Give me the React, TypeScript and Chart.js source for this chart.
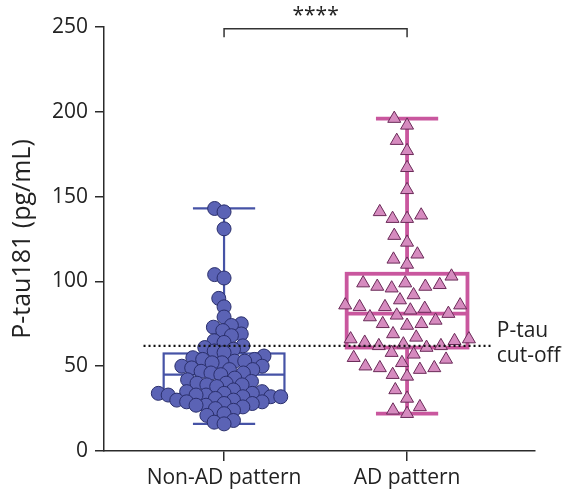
import { useEffect, useRef } from 'react';
import { Chart, registerables } from 'chart.js';

Chart.register(...registerables);

// Groups and per-subject P-tau181 values (pg/mL)
const categories = ['Non-AD pattern', 'AD pattern'];

const nonAdValues = [
  143, 141, 131, 104, 102, 90, 85,
  79, 75, 74, 73, 71, 69, 68,
  65, 64, 62, 61, 60, 59, 58,
  56, 55, 54, 54, 53, 53, 52, 52,
  50, 50, 49, 48, 48, 47, 46, 46, 45,
  43, 42, 41, 40, 40, 39, 39, 38,
  36, 35, 35, 34, 34, 34, 33, 33, 33, 32, 32, 32, 31,
  30, 30, 29, 29, 28, 28, 27, 27,
  26, 25, 24,
  22, 21,
  18, 17, 16,
];

const adValues = [
  196, 192, 183, 177, 167, 154, 141, 139, 137, 137, 127, 123, 116, 113, 110,
  103, 99, 99, 98, 97, 97, 96, 92, 89, 86, 86, 85, 85, 84, 83, 81, 80, 79, 77,
  75, 75, 74, 69, 67, 66, 66, 65, 64, 63, 62, 62, 61, 58, 57, 55, 54, 52, 50,
  49, 49, 48, 45, 44, 36, 31, 26, 24, 22,
];

// Box statistics per group (whiskers run to min / max of the values)
const boxQ1 = [33.5, 61];
const boxMedian = [45, 81];
const boxQ3 = [57.5, 104.5];

const yTicks = [0, 50, 100, 150, 200, 250];
const cutoffValue = 62;
const cutoffLabel = ['P-tau', 'cut-off'];
const significanceText = '****';

const FONT = "'Open Sans', 'DejaVu Sans', sans-serif";
const AXIS_COLOR = '#2b2b2b';
const boxColors = ['#4653a6', '#c9579e'];
const boxLineWidths = [2.2, 3.8];
const swarmSpacing = [10, 14.5];
const BOX_HALF = 0.33;
const CAP_HALF = 0.17;

// Greedy beeswarm: returns horizontal pixel offsets for each value
function swarmOffsets(values: number[], yPx: (v: number) => number, minDist: number): number[] {
  const order = values.map((_, i) => i).sort((a, b) => values[a] - values[b]);
  const placed: { x: number; y: number }[] = [];
  const offs = new Array(values.length).fill(0);
  const d2 = minDist * minDist;
  for (const i of order) {
    const y = yPx(values[i]);
    const near = placed.filter((p) => Math.abs(p.y - y) < minDist);
    const cands = [0];
    for (const p of near) {
      const dx = Math.sqrt(d2 - (p.y - y) * (p.y - y));
      cands.push(p.x + dx, p.x - dx);
    }
    cands.sort((a, b) => Math.abs(a) - Math.abs(b) || a - b);
    let chosen = 0;
    for (const c of cands) {
      if (near.every((p) => (p.x - c) ** 2 + (p.y - y) ** 2 >= d2 - 1e-6)) {
        chosen = c;
        break;
      }
    }
    placed.push({ x: chosen, y });
    offs[i] = chosen;
  }
  return offs;
}

const groups = [nonAdValues, adValues];

const boxPlugin = {
  id: 'boxes',
  beforeDatasetsDraw(chart: any) {
    const { ctx, scales } = chart;
    const x = scales.x;
    const y = scales.y;
    groups.forEach((vals, i) => {
      const l = x.getPixelForValue(i - BOX_HALF);
      const r = x.getPixelForValue(i + BOX_HALF);
      const c = x.getPixelForValue(i);
      const cl = x.getPixelForValue(i - CAP_HALF);
      const cr = x.getPixelForValue(i + CAP_HALF);
      const q1 = y.getPixelForValue(boxQ1[i]);
      const q3 = y.getPixelForValue(boxQ3[i]);
      const med = y.getPixelForValue(boxMedian[i]);
      const lo = y.getPixelForValue(Math.min(...vals));
      const hi = y.getPixelForValue(Math.max(...vals));
      ctx.save();
      ctx.strokeStyle = boxColors[i];
      ctx.lineWidth = boxLineWidths[i];
      ctx.lineCap = 'butt';
      ctx.strokeRect(l, q3, r - l, q1 - q3);
      ctx.beginPath();
      ctx.moveTo(l, med);
      ctx.lineTo(r, med);
      ctx.moveTo(c, q3);
      ctx.lineTo(c, hi);
      ctx.moveTo(c, q1);
      ctx.lineTo(c, lo);
      ctx.moveTo(cl, hi);
      ctx.lineTo(cr, hi);
      ctx.moveTo(cl, lo);
      ctx.lineTo(cr, lo);
      ctx.stroke();
      ctx.restore();
    });
  },
  afterDatasetsDraw(chart: any) {
    const { ctx, scales } = chart;
    const x = scales.x;
    const y = scales.y;
    const yc = y.getPixelForValue(cutoffValue);
    ctx.save();
    ctx.strokeStyle = '#111';
    ctx.lineWidth = 2.2;
    ctx.setLineDash([2, 3]);
    ctx.beginPath();
    ctx.moveTo(x.getPixelForValue(-0.44), yc);
    ctx.lineTo(x.getPixelForValue(1.46), yc);
    ctx.stroke();
    ctx.restore();
  },
  afterDraw(chart: any) {
    const { ctx, scales } = chart;
    const x = scales.x;
    const y = scales.y;
    const yc = y.getPixelForValue(cutoffValue);
    ctx.save();
    ctx.fillStyle = '#222';
    ctx.font = `21px ${FONT}`;
    ctx.textAlign = 'left';
    ctx.textBaseline = 'middle';
    const lx = x.getPixelForValue(1.49);
    ctx.fillText(cutoffLabel[0], lx, yc - 15);
    ctx.fillText(cutoffLabel[1], lx, yc + 10);

    // significance bracket between the two groups
    const bx0 = x.getPixelForValue(0);
    const bx1 = x.getPixelForValue(1);
    const by = y.getPixelForValue(249);
    const drop = y.getPixelForValue(244);
    ctx.strokeStyle = '#333';
    ctx.lineWidth = 1.5;
    ctx.beginPath();
    ctx.moveTo(bx0, drop);
    ctx.lineTo(bx0, by);
    ctx.lineTo(bx1, by);
    ctx.lineTo(bx1, drop);
    ctx.stroke();
    ctx.textAlign = 'center';
    ctx.textBaseline = 'alphabetic';
    ctx.fillText(significanceText, (bx0 + bx1) / 2, by - 7);
    ctx.restore();
  },
};

export default function App() {
  const canvasRef = useRef<HTMLCanvasElement | null>(null);

  useEffect(() => {
    document.body.style.margin = '0';
    const canvas = canvasRef.current;
    if (!canvas) return;
    const tickFont = { family: FONT, size: 21 };
    const chart = new Chart(canvas, {
      type: 'scatter',
      data: {
        datasets: [
          {
            label: categories[0],
            data: nonAdValues.map((v) => ({ x: 0, y: v })),
            pointStyle: 'circle',
            pointRadius: 7,
            backgroundColor: '#5b63b5',
            borderColor: '#2a2f6c',
            borderWidth: 1,
          },
          {
            label: categories[1],
            data: adValues.map((v) => ({ x: 1, y: v })),
            pointStyle: 'triangle',
            pointRadius: 7.5,
            backgroundColor: '#d68bbf',
            borderColor: '#6a2a58',
            borderWidth: 1,
          },
        ],
      },
      options: {
        animation: false,
        responsive: false,
        events: [],
        layout: { padding: { top: 27, right: 32, left: 0, bottom: 0 } },
        plugins: { legend: { display: false }, tooltip: { enabled: false } },
        scales: {
          x: {
            type: 'linear',
            min: -0.656,
            max: 1.699,
            afterBuildTicks: (s: any) => {
              s.ticks = categories.map((_, i) => ({ value: i }));
            },
            afterFit: (s: any) => {
              s.height = 48;
            },
            ticks: {
              callback: (v: any) => categories[v] ?? '',
              font: tickFont,
              color: '#222',
              padding: 4,
              autoSkip: false,
              maxRotation: 0,
            },
            grid: { drawOnChartArea: false, drawTicks: true, tickLength: 10, color: AXIS_COLOR, lineWidth: 1.5 },
            border: { display: true, color: AXIS_COLOR, width: 1.5 },
          },
          y: {
            type: 'linear',
            min: 0,
            max: 250,
            afterBuildTicks: (s: any) => {
              s.ticks = yTicks.map((v) => ({ value: v }));
            },
            afterFit: (s: any) => {
              s.width = 104;
            },
            ticks: { font: tickFont, color: '#222', padding: 7 },
            grid: { drawOnChartArea: false, drawTicks: true, tickLength: 9, color: AXIS_COLOR, lineWidth: 1.5 },
            border: { display: true, color: AXIS_COLOR, width: 1.5 },
            title: {
              display: true,
              text: 'P-tau181 (pg/mL)',
              font: { family: FONT, size: 25 },
              color: '#222',
              padding: { top: 8, bottom: 0 },
            },
          },
        },
      },
      plugins: [boxPlugin],
    });

    // spread each group's points horizontally as a beeswarm
    const xs = chart.scales.x;
    const ys = chart.scales.y;
    const pxPerUnit = xs.getPixelForValue(1) - xs.getPixelForValue(0);
    groups.forEach((vals, k) => {
      const offs = swarmOffsets(vals, (v) => ys.getPixelForValue(v), swarmSpacing[k]);
      chart.data.datasets[k].data = vals.map((v, j) => ({ x: k + offs[j] / pxPerUnit, y: v }));
    });
    chart.update('none');

    return () => chart.destroy();
  }, []);

  return <canvas ref={canvasRef} width={567} height={499} />;
}
